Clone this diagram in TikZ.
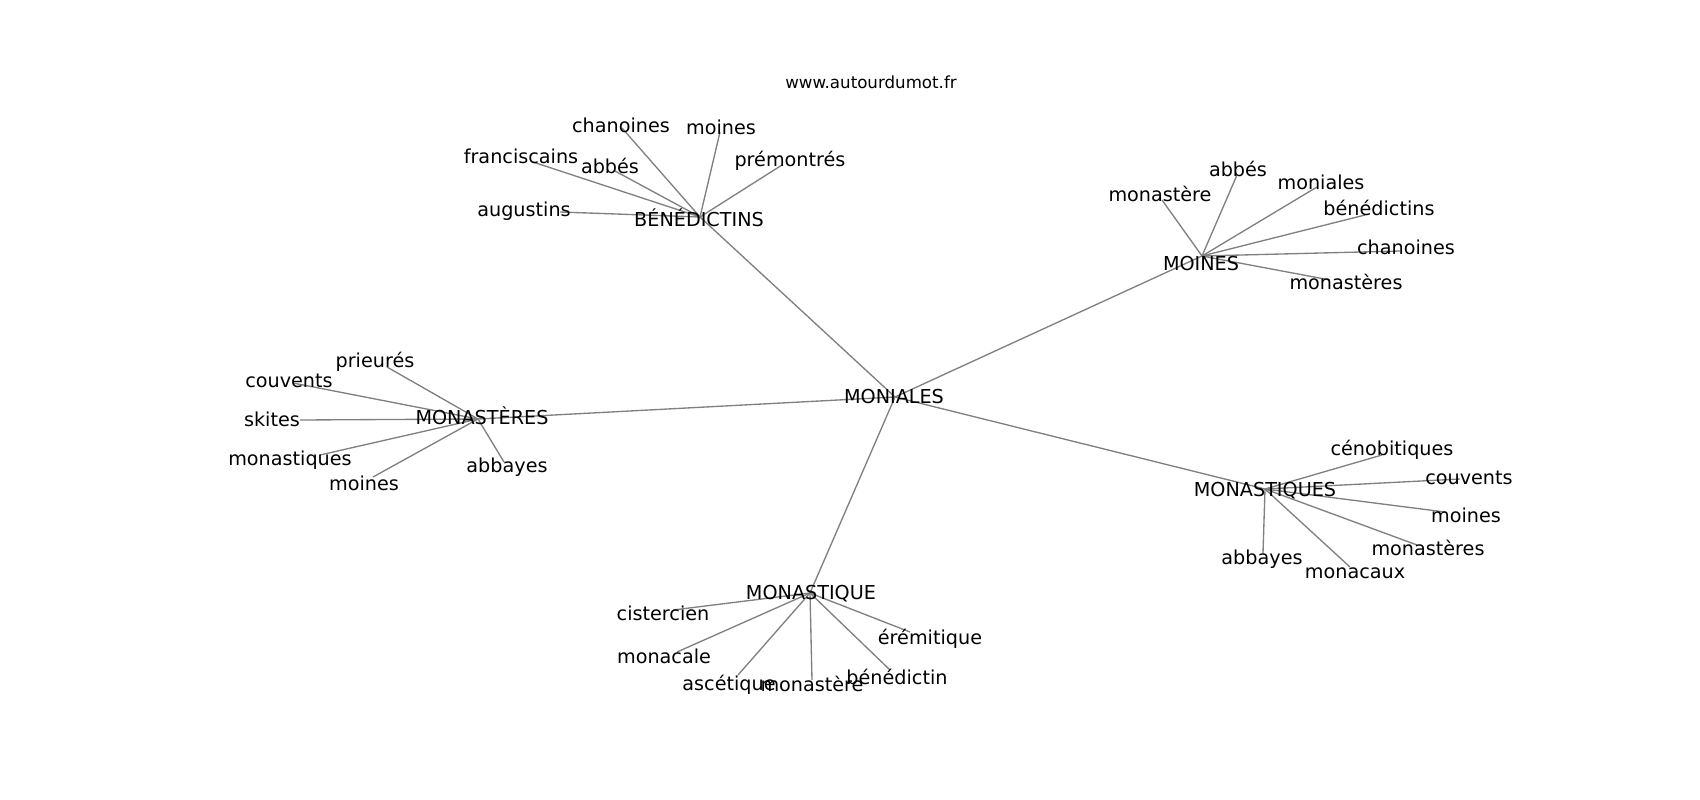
\documentclass[tikz,border=0pt]{standalone}
\usepackage{fontspec}
\setmainfont{DejaVu Sans}

\tikzstyle{word} = [inner sep=0pt,yshift=-2.25pt,text height=0.76em,text depth=0.24em,font=\fontsize{14.4}{17}\selectfont]
\tikzstyle{site} = [inner sep=0pt,yshift=-1pt,text height=0.76em,text depth=0.24em,font=\fontsize{12.5}{14}\selectfont]
\tikzstyle{link} = [draw,line width=1pt,gray,-]

\begin{document}
\begin{tikzpicture}[x=0.75pt,y=-0.75pt]
      \useasboundingbox (0,0) rectangle (1700,800);
      %points
      \foreach \nodename/\x/\y in {
        moniales/895/397, bened/700/217, moines/1202/256,
        monasteres/478/419, monastiques/1265/489, monastique/810/593,
        b1/622/128, b2/720/132, b3/533/162, b4/615/171, b5/782/165, b6/560/212,
        m1/1162/200, m2/1237/175, m3/1317/187, m4/1365/215, m5/1400/251, m6/1330/280,
        r1/387/367, r2/293/383, r3/300/420, r4/320/455, r5/373/477, r6/504/462,
        q1/1382/455, q2/1460/479, q3/1445/512, q4/1417/545, q5/1263/553, q6/1350/567,
        u1/673/610, u2/677/652, u3/738/675, u4/812/680, u5/890/670, u6/910/632}
      {
        \coordinate (\nodename) at (\x,\y);
      };
      %edges
      \path
      \foreach \startnode/\endnode in {
        moniales/bened, moniales/moines, moniales/monasteres, moniales/monastiques, moniales/monastique,
        bened/b1, bened/b2, bened/b3, bened/b4, bened/b5, bened/b6,
        moines/m1, moines/m2, moines/m3, moines/m4, moines/m5, moines/m6,
        monasteres/r1, monasteres/r2, monasteres/r3, monasteres/r4, monasteres/r5, monasteres/r6,
        monastiques/q1, monastiques/q2, monastiques/q3, monastiques/q4, monastiques/q5, monastiques/q6,
        monastique/u1, monastique/u2, monastique/u3, monastique/u4, monastique/u5, monastique/u6}
      {
        (\startnode) edge[link] (\endnode)
      };
      %labels
      \foreach \nodename/\x/\y/\value in {
        moniales/894/397/MONIALES, bened/699/220/BÉNÉDICTINS, moines/1201/264/MOINES,
        monasteres/482/418/MONASTÈRES, monastiques/1265/490/MONASTIQUES, monastique/811/593/MONASTIQUE,
        b1/621/126/chanoines, b2/721/128/moines, b3/521/157/franciscains,
        b4/610/167/abbés, b5/790/160/prémontrés, b6/524/210/augustins,
        m1/1160/195/monastère, m2/1238/170/abbés, m3/1321/183/moniales,
        m4/1379/209/bénédictins, m5/1406/248/chanoines, m6/1346/283/monastères,
        r1/375/361/prieurés, r2/289/381/couvents, r3/272/420/skites,
        r4/290/459/monastiques, r5/364/484/moines, r6/507/466/abbayes,
        q1/1392/449/cénobitiques, q2/1469/478/couvents, q3/1466/516/moines,
        q4/1428/549/monastères, q5/1262/558/abbayes, q6/1355/572/monacaux,
        u1/663/614/cistercien, u2/664/657/monacale, u3/729/684/ascétique,
        u4/812/685/monastère, u5/897/678/bénédictin, u6/930/638/érémitique}
      {
        \node[word] (\nodename-t) at (\x,\y) {\value};
      };
      \node[site] (site) at (871,84) {www.autourdumot.fr};
\end{tikzpicture}
\end{document}
